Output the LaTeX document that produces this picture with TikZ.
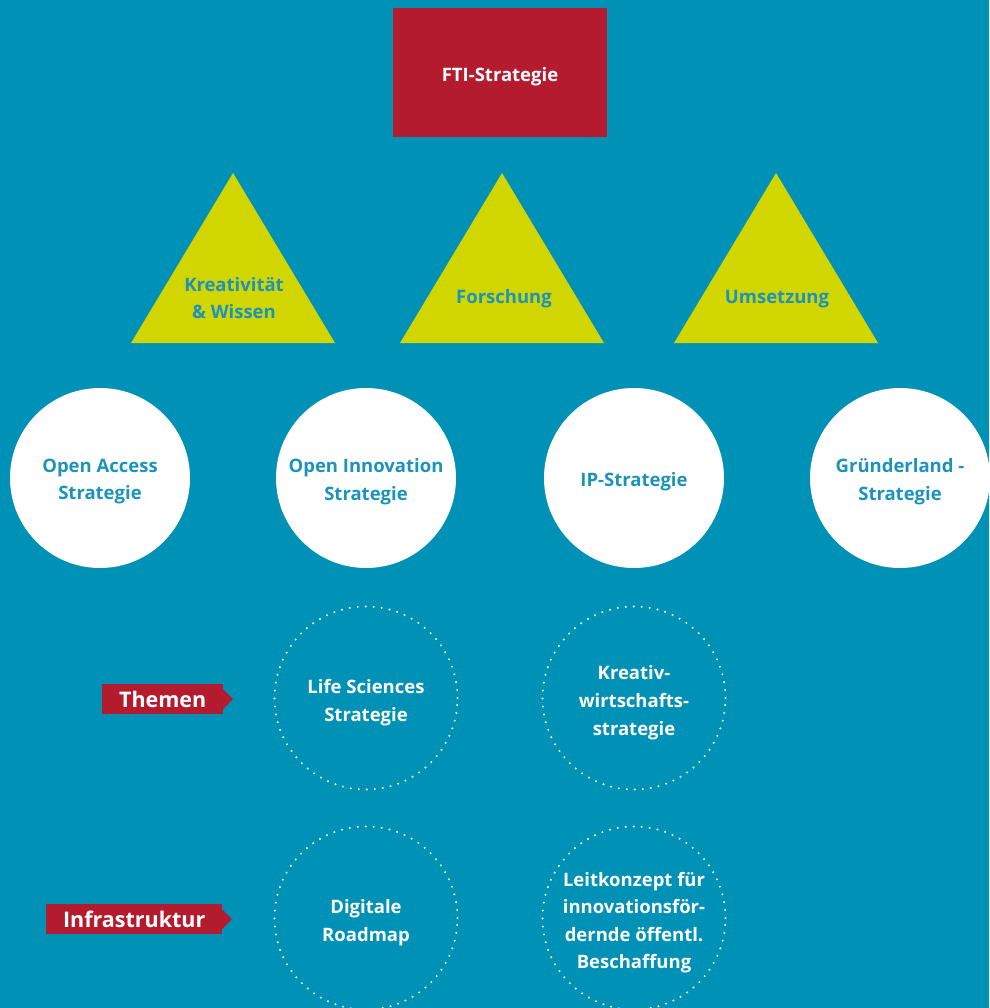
\documentclass[tikz,border=0pt]{standalone}
\usepackage{fontspec}
\setmainfont{Open Sans}
\usetikzlibrary{shapes.geometric}
\definecolor{bg}{HTML}{0091B6}
\definecolor{fred}{HTML}{B51B2E}
\definecolor{tri}{HTML}{D2D600}
\definecolor{ttxt}{HTML}{1C93BD}
\tikzset{
  txt/.style={font=\fontsize{18.5}{27.5}\selectfont\bfseries, align=center},
  bigc/.style={circle, fill=white, minimum size=180pt, inner sep=0pt},
  dotc/.style={circle, draw=white, line width=2.2pt, dash pattern=on 0pt off 8pt, line cap=round, minimum size=183pt, inner sep=0pt},
  ctxt/.style={txt, text=ttxt, yshift=-3.5pt},
  dtxt/.style={txt, text=white, yshift=-4.5pt},
  tlabel/.style={txt, text=ttxt},
  tag/.style={fill=fred, text=white, font=\fontsize{21.5}{24}\selectfont\bfseries, inner sep=0pt, minimum height=30pt, anchor=west}
}
\begin{document}
\begin{tikzpicture}[x=1pt,y=-1pt]
\fill[bg] (0,0) rectangle (989,1008);
\useasboundingbox (0,0) rectangle (989,1008);
% top box
\node[fill=fred, minimum width=214pt, minimum height=129pt, inner sep=0pt] (fti) at (500,72.5) {};
\node[txt, text=white] (ftit) at (500,77) {FTI-Strategie};
% triangles
\fill[tri] (233,173) -- (335,343) -- (131,343) -- cycle;
\fill[tri] (502,173) -- (604,343) -- (400,343) -- cycle;
\fill[tri] (776,173) -- (878,343) -- (674,343) -- cycle;
\node[tlabel] (t1) at (234,298) {Kreativität\\\& Wissen};
\node[tlabel] (t2) at (504,299) {Forschung};
\node[tlabel] (t3) at (777,299) {Umsetzung};
% big circles
\node[bigc] (c1) at (100,478) {};
\node[bigc] (c2) at (366,478) {};
\node[bigc] (c3) at (634,478) {};
\node[bigc] (c4) at (900,478) {};
\node[ctxt] (c1t) at (c1) {Open Access\\Strategie};
\node[ctxt] (c2t) at (c2) {Open Innovation\\Strategie};
\node[ctxt] (c3t) at (c3) {IP-Strategie};
\node[ctxt] (c4t) at (c4) {Gründerland -\\Strategie};
% dotted circles
\node[dotc] (d1) at (366,698) {};
\node[dotc] (d2) at (634,698) {};
\node[dotc] (d3) at (366,918) {};
\node[dotc] (d4) at (634,918) {};
\node[dtxt] (d1t) at (d1) {Life Sciences\\Strategie};
\node[dtxt, font=\fontsize{18.5}{28}\selectfont\bfseries] (d2t) at (d2) {Kreativ-\\wirtschafts-\\strategie};
\node[dtxt] (d3t) at (d3) {Digitale\\Roadmap};
\node[dtxt] (d4t) at (d4) {Leitkonzept für\\innovationsför-\\dernde öffentl.\\Beschaffung};
% tags
\node[tag, minimum width=121pt] (th) at (102,699) {Themen};
\fill[fred] (223,689) -- (233,699) -- (223,709) -- cycle;
\node[tag, minimum width=176pt] (inf) at (46,919) {Infrastruktur};
\fill[fred] (222,909) -- (232,919) -- (222,929) -- cycle;
\end{tikzpicture}
\end{document}
